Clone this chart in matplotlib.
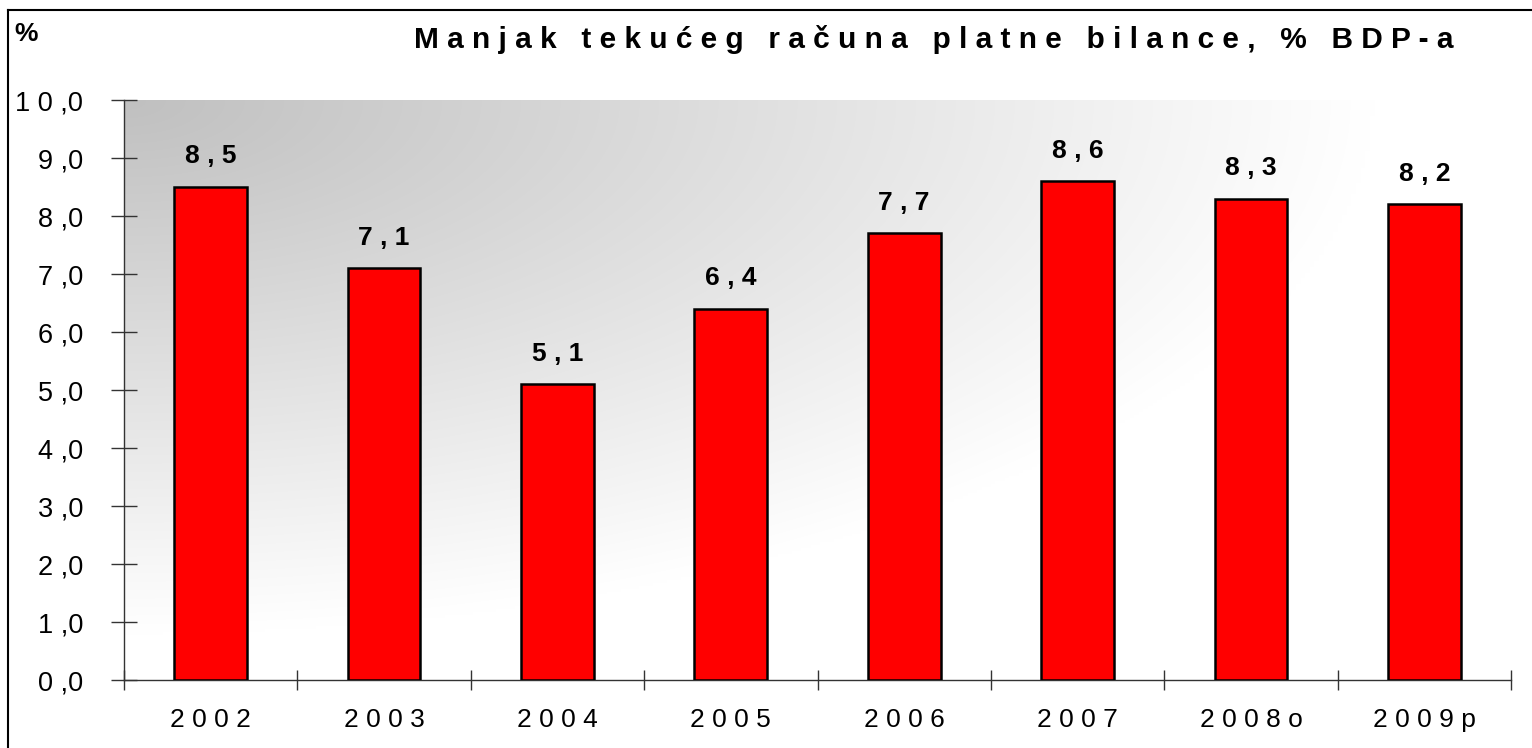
import numpy as np
import matplotlib.pyplot as plt
from matplotlib.lines import Line2D

# podaci
godine = ['2002', '2003', '2004', '2005', '2006', '2007', '2008o', '2009p']
manjak = [8.5, 7.1, 5.1, 6.4, 7.7, 8.6, 8.3, 8.2]
y_ticks = [0, 1, 2, 3, 4, 5, 6, 7, 8, 9, 10]
naslov = 'Manjak tekućeg računa platne bilance, % BDP-a'


def razmakni(tekst, razmak=' '):
    # razmak izmedju slova, kao u originalu
    rijeci = tekst.split(' ')
    return '   '.join(razmak.join(r) for r in rijeci)


def oznaka(v, bold=False):
    s = f'{v:.1f}'.replace('.', ',')
    cijeli, dec = s.split(',')
    if bold:
        return ' '.join(cijeli) + ' , ' + dec
    return ' '.join(cijeli) + ' ,' + dec


plt.rcParams['font.family'] = ['Liberation Sans', 'DejaVu Sans']

fig = plt.figure(figsize=(15.32, 7.48), dpi=100)
ax = fig.add_axes([124 / 1532, 1 - 680 / 748, (1511 - 124) / 1532, (680 - 100) / 748])

# gradijent pozadine (siva gore lijevo -> bijela)
xx, yy = np.meshgrid(np.linspace(0, 1, 300), np.linspace(0, 1, 200))
t = np.clip(np.sqrt((xx / 0.9) ** 2 + (yy / 0.92) ** 2), 0, 1)
siva = 192 + (255 - 192) * t
img = np.dstack([siva, siva, siva]) / 255.0
ax.imshow(img, extent=[0, len(godine), 0, 10], aspect='auto', zorder=0, interpolation='bilinear')

x = np.arange(len(godine)) + 0.5
ax.bar(x, manjak, width=0.42, color='#ff0000', edgecolor='black', linewidth=1.8, zorder=3)

for xi, v in zip(x, manjak):
    ax.text(xi, v + 0.32, oznaka(v, bold=True), ha='center', va='bottom', fontsize=19,
            fontweight='bold', zorder=4)

ax.set_xlim(0, len(godine))
ax.set_ylim(0, 10)

ax.set_yticks(y_ticks)
ax.set_yticklabels([oznaka(v) for v in y_ticks], fontsize=19.5)
ax.set_xticks(np.arange(len(godine) + 1))
ax.set_xticklabels([])
ax.set_xticks(x, minor=True)
ax.set_xticklabels([' '.join(g) for g in godine], minor=True, fontsize=19)

ax.tick_params(axis='y', direction='inout', length=19, width=1, color='#333333', pad=20)
ax.tick_params(axis='x', which='major', direction='inout', length=15, width=1, color='#333333')
ax.tick_params(axis='x', which='minor', length=0, pad=20)

for s in ['top', 'right']:
    ax.spines[s].set_visible(False)
for s in ['left', 'bottom']:
    ax.spines[s].set_color('#333333')
    ax.spines[s].set_linewidth(1)

# okvir slike
fig.add_artist(Line2D([8 / 1532, 8 / 1532], [0, 1 - 10 / 748], color='black', lw=1.5))
fig.add_artist(Line2D([8 / 1532, 1], [1 - 10 / 748, 1 - 10 / 748], color='black', lw=1.5))

fig.text(14 / 1532, 1 - 34 / 748, '%', fontsize=19, fontweight='bold', va='center', ha='left')
fig.text(934 / 1532, 1 - 39 / 748, razmakni(naslov), fontsize=21.5, fontweight='bold',
         va='center', ha='center')

fig.savefig('out.png', dpi=100)
